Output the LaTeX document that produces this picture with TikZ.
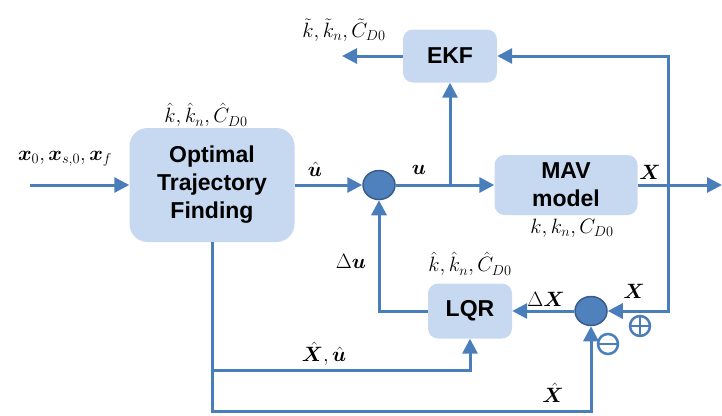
\documentclass[tikz,border=0pt]{standalone}
\usepackage{fontspec}
\usepackage{amsmath,bm}
\newfontfamily\boxfont{Liberation Sans}
\usetikzlibrary{shapes,arrows.meta,calc}
\definecolor{boxblue}{RGB}{198,217,240}
\definecolor{lineblue}{RGB}{74,126,187}
\definecolor{sumblue}{RGB}{79,129,189}
\definecolor{sumedge}{RGB}{56,93,138}
\tikzstyle{block} = [rectangle, fill=boxblue, rounded corners=10pt, align=center,
    inner sep=0pt, font=\boxfont\bfseries\fontsize{23}{28}\selectfont]
\tikzstyle{sum} = [ellipse, draw=sumedge, fill=sumblue, line width=1.5pt,
    minimum width=32pt, minimum height=29pt, inner sep=0pt]
\tikzstyle{sign} = [circle, draw=lineblue, line width=2.5pt, minimum size=20pt, inner sep=0pt]
\tikzstyle{line} = [draw=lineblue, line width=3pt, -{Triangle[length=15pt,width=15pt]}]
\tikzstyle{lbl} = [inner sep=0pt, font=\fontsize{22}{26}\selectfont]

\begin{document}
\begin{tikzpicture}[x=1pt, y=-1pt, node distance=167pt]
    \useasboundingbox (0,0) rectangle (722,415);
    % Place nodes
    \node [block, minimum width=165pt, minimum height=114pt, rounded corners=18pt] (otf) at (212,185) {Optimal\\Trajectory\\Finding};
    \node [sum, right of=otf] (sum_u) {};
    \node [block, right of=sum_u, node distance=187pt, minimum width=143pt, minimum height=60pt] (mav) {MAV\\model};
    \node [block, minimum width=94pt, minimum height=53pt] (ekf) at (450,56) {EKF};
    \node [block, minimum width=84pt, minimum height=55pt] (lqr) at (470,311) {LQR};
    \node [sum, right of=lqr, node distance=121pt] (sum_x) {};
    \node [sign] (plus) at (640,326) {};
    \node [sign] (minus) at (608,344) {};
    \draw [lineblue, line width=2.5pt] (plus.north) -- (plus.south) (plus.west) -- (plus.east);
    \draw [lineblue, line width=2.5pt] (minus.west) -- (minus.east);
    % Helper points
    \coordinate (in) at (30,185);
    \coordinate (out) at (722,185);
    \coordinate (ekf_out) at (342,56);
    \coordinate (tap_u) at (ekf.south |- mav);
    \coordinate (tap_x) at (668,185);
    \coordinate (tap_a) at (212,370);
    \coordinate (tap_b) at (212,411);
    % Labels
    \node [lbl] (l_in) at (65,159) {$\bm{x}_0,\bm{x}_{s,0},\bm{x}_f$};
    \node [lbl] (l_otf) at (206,115) {$\hat{k},\hat{k}_n,\hat{C}_{D0}$};
    \node [lbl] (l_uhat) at (315,169) {$\hat{\bm{u}}$};
    \node [lbl] (l_u) at (419,170) {$\bm{u}$};
    \node [lbl] (l_ekf) at (344,30) {$\tilde{k},\tilde{k}_n,\tilde{C}_{D0}$};
    \node [lbl] (l_x) at (650,172) {$\bm{X}$};
    \node [lbl] (l_mav) at (572,228) {$k,k_n,C_{D0}$};
    \node [lbl] (l_du) at (351,261) {$\Delta\bm{u}$};
    \node [lbl] (l_lqr) at (470,264) {$\hat{k},\hat{k}_n,\hat{C}_{D0}$};
    \node [lbl] (l_dx) at (546,299) {$\Delta\bm{X}$};
    \node [lbl] (l_xs) at (634,291) {$\bm{X}$};
    \node [lbl] (l_xu) at (324,354) {$\hat{\bm{X}},\hat{\bm{u}}$};
    \node [lbl] (l_xh) at (553,393) {$\hat{\bm{X}}$};
    % Draw edges
    \path [line] (in) -- (otf);
    \path [line] (otf) -- (sum_u);
    \path [line] (sum_u) -- (mav);
    \path [line] (tap_u) -- (ekf.south);
    \path [line] (ekf.west) -- (ekf_out);
    \path [line] (mav) -- (out);
    \path [line] (tap_x) |- (ekf.east);
    \path [line] (tap_x) |- (sum_x.east);
    \path [line] (sum_x) -- (lqr);
    \path [line] (lqr.west) -| (sum_u.south);
    \path [line] (otf.south) -- (tap_a) -| (lqr.south);
    \path [line] (tap_a) -- (tap_b) -| (sum_x.south);
\end{tikzpicture}
\end{document}
